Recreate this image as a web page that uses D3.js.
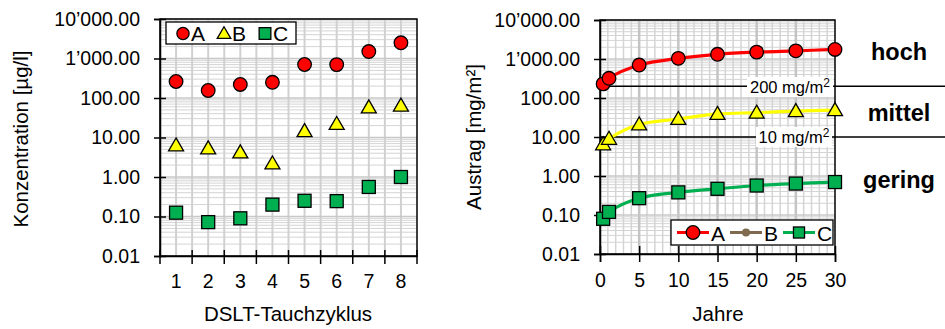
<!DOCTYPE html>
<meta charset="utf-8">
<style>
body { margin: 0; background: #fff; }
text { font-family: "Liberation Sans", Arial, sans-serif; fill: #000; }
.axis path, .axis line { stroke: #000; stroke-width: 1.5; }
.axis text { font-size: 19.5px; }
</style>
<body>
<script src="https://cdnjs.cloudflare.com/ajax/libs/d3/7.8.5/d3.min.js"></script>
<script>

var width = 945,
    height = 329;

// left chart: DSLT cycles
var cycles = [1, 2, 3, 4, 5, 6, 7, 8];
var concA = [262, 155, 220, 250, 705, 700, 1500, 2500];
var concB = [6.3, 5.3, 4.2, 2.2, 14.5, 22, 58, 64];
var concC = [0.125, 0.072, 0.09, 0.2, 0.25, 0.245, 0.56, 1.0];

// right chart: years
var years = [0.4, 1.15, 5, 10, 15, 20, 25, 30];
var austragA = [230, 320, 700, 1040, 1320, 1500, 1620, 1760];
var austragB = [6.5, 9, 21, 29, 39, 42, 46, 49];
var austragC = [0.08, 0.12, 0.27, 0.38, 0.47, 0.57, 0.64, 0.70];

var yTicks = [0.01, 0.1, 1, 10, 100, 1000, 10000];
var xTicksRight = [0, 5, 10, 15, 20, 25, 30];
var thresholds = [200, 10];
var thresholdLabels = ["200 mg/m", "10 mg/m"];
var classLabels = ["hoch", "mittel", "gering"];
var seriesNames = ["A", "B", "C"];

var red = "#ff0000", yellow = "#ffff00", green = "#00b050", brown = "#7f6a4f";

var loc = d3.formatLocale({decimal: ".", thousands: "’", grouping: [3], currency: ["", ""]});
var fmt = loc.format(",.2f");

var svg = d3.select("body").append("svg")
    .attr("width", width)
    .attr("height", height);

function minorValues() {
  var v = [];
  yTicks.slice(0, -1).forEach(function(d) {
    d3.range(2, 10).forEach(function(k) { v.push(d * k); });
  });
  return v;
}

function marker(g, type, x, y, fill, s) {
  s = s || 1;
  if (type == "circle") {
    g.append("circle").attr("cx", x).attr("cy", y).attr("r", 6.8 * s)
      .attr("fill", fill).attr("stroke", "#000").attr("stroke-width", 1.3);
  } else if (type == "triangle") {
    g.append("path")
      .attr("d", "M" + x + "," + (y - 7.5 * s) + "L" + (x + 7.5 * s) + "," + (y + 5.5 * s) + "L" + (x - 7.5 * s) + "," + (y + 5.5 * s) + "Z")
      .attr("fill", fill).attr("stroke", "#000").attr("stroke-width", 1.3);
  } else {
    g.append("rect").attr("x", x - 6.5 * s).attr("y", y - 6.5 * s)
      .attr("width", 13 * s).attr("height", 13 * s)
      .attr("fill", fill).attr("stroke", "#000").attr("stroke-width", 1.3);
  }
}

// ---------- left chart ----------
var xL = d3.scaleBand().domain(cycles).range([160, 417]);
var yL = d3.scaleLog().domain([0.01, 10000]).range([256, 19]);

var gL = svg.append("g");

gL.selectAll(".hminor").data(minorValues()).enter().append("line")
    .attr("x1", 160).attr("x2", 417)
    .attr("y1", function(d) { return yL(d); })
    .attr("y2", function(d) { return yL(d); })
    .attr("stroke", "#d4d4d4").attr("stroke-width", 1);

var vLeft = [];
cycles.forEach(function(c) { vLeft.push(xL(c)); vLeft.push(xL(c) + xL.bandwidth() / 2); });
gL.selectAll(".vgrid").data(vLeft).enter().append("line")
    .attr("x1", function(d) { return d; }).attr("x2", function(d) { return d; })
    .attr("y1", 19).attr("y2", 256)
    .attr("stroke", "#d0d0d0").attr("stroke-width", 2);

gL.selectAll(".hmajor").data(yTicks).enter().append("line")
    .attr("x1", 160).attr("x2", 417)
    .attr("y1", function(d) { return yL(d); })
    .attr("y2", function(d) { return yL(d); })
    .attr("stroke", "#c8c8c8").attr("stroke-width", 1.5);

gL.append("rect").attr("x", 160).attr("y", 19).attr("width", 257).attr("height", 237)
    .attr("fill", "none").attr("stroke", "#000").attr("stroke-width", 1.5);

var yAxisL = gL.append("g").attr("class", "axis")
    .attr("transform", "translate(160,0)")
    .call(d3.axisLeft(yL).tickValues(yTicks).tickFormat(fmt).tickSize(6).tickPadding(14));
yAxisL.selectAll(".tick line").attr("x1", 6);

var xAxisL = gL.append("g").attr("class", "axis")
    .attr("transform", "translate(0,256)")
    .call(d3.axisBottom(xL).tickSize(0).tickPadding(18));
xAxisL.selectAll(".tick text").attr("dy", "0.71em");
gL.selectAll(".xtick").data(cycles.concat([9])).enter().append("line")
    .attr("x1", function(d) { return d == 9 ? 417 : xL(d); })
    .attr("x2", function(d) { return d == 9 ? 417 : xL(d); })
    .attr("y1", 250).attr("y2", 264)
    .attr("stroke", "#000").attr("stroke-width", 1.5);

var seriesL = [[concA, "circle", red], [concB, "triangle", yellow], [concC, "square", green]];
seriesL.forEach(function(s) {
  s[0].forEach(function(v, i) {
    marker(gL, s[1], xL(cycles[i]) + xL.bandwidth() / 2, yL(v), s[2]);
  });
});

// left legend
gL.append("rect").attr("x", 166).attr("y", 22).attr("width", 130).attr("height", 22)
    .attr("fill", "#fff").attr("stroke", "#000").attr("stroke-width", 1.3);
[["circle", red, 183], ["triangle", yellow, 224], ["square", green, 265]].forEach(function(m, i) {
  marker(gL, m[0], m[2], 33.5, m[1], 0.9);
  gL.append("text").attr("x", m[2] + 8).attr("y", 41).attr("font-size", "21px").text(seriesNames[i]);
});

gL.append("text").attr("transform", "translate(28,139) rotate(-90)")
    .attr("text-anchor", "middle").attr("font-size", "20.5px").text("Konzentration [µg/l]");
gL.append("text").attr("x", 288).attr("y", 321)
    .attr("text-anchor", "middle").attr("font-size", "20.5px").text("DSLT-Tauchzyklus");

// ---------- right chart ----------
var xR = d3.scaleLinear().domain([0, 30]).range([600, 835]);
var yR = d3.scaleLog().domain([0.01, 10000]).range([254, 20]);

var gR = svg.append("g");

gR.selectAll(".hminor").data(minorValues()).enter().append("line")
    .attr("x1", 600).attr("x2", 835)
    .attr("y1", function(d) { return yR(d); })
    .attr("y2", function(d) { return yR(d); })
    .attr("stroke", "#d4d4d4").attr("stroke-width", 1);

gR.selectAll(".vgrid").data(d3.range(1, 30)).enter().append("line")
    .attr("x1", function(d) { return xR(d); }).attr("x2", function(d) { return xR(d); })
    .attr("y1", 20).attr("y2", 254)
    .attr("stroke", function(d) { return d % 5 == 0 ? "#c4c4c4" : "#d4d4d4"; })
    .attr("stroke-width", function(d) { return d % 5 == 0 ? 2.5 : 1.5; });

gR.selectAll(".hmajor").data(yTicks).enter().append("line")
    .attr("x1", 600).attr("x2", 835)
    .attr("y1", function(d) { return yR(d); })
    .attr("y2", function(d) { return yR(d); })
    .attr("stroke", "#c8c8c8").attr("stroke-width", 1.5);

gR.append("rect").attr("x", 600).attr("y", 20).attr("width", 235).attr("height", 234)
    .attr("fill", "none").attr("stroke", "#000").attr("stroke-width", 1.5);

var yAxisR = gR.append("g").attr("class", "axis")
    .attr("transform", "translate(600,0)")
    .call(d3.axisLeft(yR).tickValues(yTicks).tickFormat(fmt).tickSize(6).tickPadding(14));
yAxisR.selectAll(".tick line").attr("x1", 6);

var xAxisR = gR.append("g").attr("class", "axis")
    .attr("transform", "translate(0,254)")
    .call(d3.axisBottom(xR).tickValues(xTicksRight).tickSize(8).tickPadding(11));
xAxisR.selectAll(".tick line").attr("y1", -8);
xAxisR.selectAll(".tick text").attr("dy", "0.71em");

// thresholds
thresholds.forEach(function(t) {
  gR.append("line").attr("x1", 600).attr("x2", 945)
    .attr("y1", yR(t)).attr("y2", yR(t))
    .attr("stroke", "#000").attr("stroke-width", 1.3);
});

var line = d3.line().curve(d3.curveCatmullRom)
    .x(function(d, i) { return xR(years[i]); })
    .y(function(d) { return yR(d); });

var seriesR = [[austragA, "circle", red, red], [austragB, "triangle", yellow, yellow], [austragC, "square", green, green]];
seriesR.forEach(function(s) {
  gR.append("path").attr("d", line(s[0]))
    .attr("fill", "none").attr("stroke", s[3]).attr("stroke-width", 3.2);
});
seriesR.forEach(function(s) {
  s[0].forEach(function(v, i) { marker(gR, s[1], xR(years[i]), yR(v), s[2]); });
});

// threshold labels
[[747, 87, 86], [756, 137, 76]].forEach(function(p, i) {
  gR.append("rect").attr("x", p[0]).attr("y", p[1] - 10).attr("width", p[2]).attr("height", 20)
    .attr("fill", "#fff");
  var t = gR.append("text").attr("x", p[0] + p[2] / 2).attr("y", p[1] + 6)
    .attr("text-anchor", "middle").attr("font-size", "16.5px").text(thresholdLabels[i]);
  t.append("tspan").attr("dy", -6).attr("font-size", "12px").text("2");
});

// class labels
[52, 113, 180].forEach(function(y, i) {
  gR.append("text").attr("x", 899).attr("y", y + 8)
    .attr("text-anchor", "middle").attr("font-size", "23.5px").attr("font-weight", "bold")
    .text(classLabels[i]);
});

// right legend
gR.append("rect").attr("x", 671).attr("y", 220).attr("width", 162).attr("height", 25)
    .attr("fill", "#fff").attr("stroke", "#000").attr("stroke-width", 1.3);
var legR = [["circle", red, red, 1], ["dot", brown, brown, 0.5], ["square", green, green, 0.85]];
legR.forEach(function(m, i) {
  var x0 = 677 + i * 53;
  gR.append("line").attr("x1", x0).attr("x2", x0 + 32).attr("y1", 232.5).attr("y2", 232.5)
    .attr("stroke", m[2]).attr("stroke-width", 3);
  if (m[0] == "dot") {
    gR.append("circle").attr("cx", x0 + 16).attr("cy", 232.5).attr("r", 4).attr("fill", brown);
  } else {
    marker(gR, m[0], x0 + 16, 232.5, m[1], m[3]);
  }
  gR.append("text").attr("x", x0 + 34).attr("y", 240.5).attr("font-size", "21px").text(seriesNames[i]);
});

gR.append("text").attr("transform", "translate(481,137) rotate(-90)")
    .attr("text-anchor", "middle").attr("font-size", "20.5px").text("Austrag [mg/m²]");
gR.append("text").attr("x", 718).attr("y", 321)
    .attr("text-anchor", "middle").attr("font-size", "20.5px").text("Jahre");

</script>
